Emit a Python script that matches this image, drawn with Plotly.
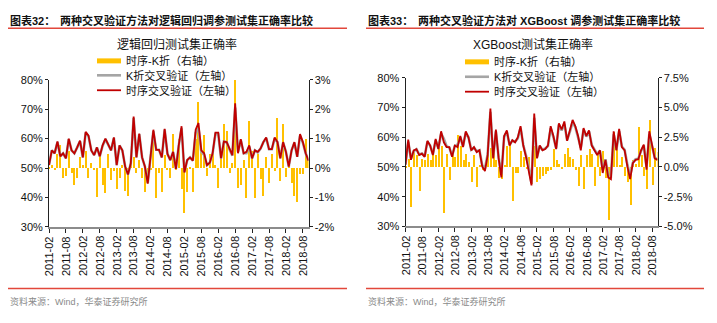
import plotly.graph_objects as go

# ---------------- data ----------------
months = []
for yr in range(2011, 2019):
    for m in range(1, 13):
        s = f"{yr}-{m:02d}"
        if "2011-02" <= s <= "2018-10":
            months.append(s)

tick_labels = ["2011-02", "2011-08", "2012-02", "2012-08", "2013-02", "2013-08",
               "2014-02", "2014-08", "2015-02", "2015-08", "2016-02", "2016-08",
               "2017-02", "2017-08", "2018-02", "2018-08"]

# Chart 32: logistic regression (left axis %, lines)
lr_ts = [51, 56, 55, 59, 54, 55, 53.3, 60, 56, 55,
         57, 59.3, 53.6, 62.3, 61, 56, 54.4, 57, 54, 57.7,
         60, 57.7, 56, 60.4, 51, 57.7, 56, 50.5, 47.8, 51.6,
         67.5, 53.6, 61.7, 53.6, 50.5, 44.7, 55, 63, 56.2, 56.2,
         53.6, 63.3, 54.8, 52.7, 55.5, 49.7, 57.7, 64.2, 48.5, 52.7,
         53.6, 52.5, 63, 65.3, 56, 55, 51, 51.8, 55, 62,
         62, 53.3, 59, 58.8, 56.6, 54.4, 72, 55, 59.8, 55,
         55.5, 57.7, 53.3, 56, 55.5, 56.6, 58.8, 60.4, 56.4, 56.4,
         60.4, 58.8, 53.3, 58.8, 55.5, 50.5, 56, 58.8, 53.8, 61.5,
         58.8, 55, 52.5]
lr_kf = [51, 56, 55, 58.8, 54, 55, 53.3, 59.8, 56, 55,
         57, 59.1, 53.6, 62.0, 60.8, 56, 54.4, 57, 54, 57.5,
         59.8, 57.7, 56, 60.2, 51, 57.7, 56, 50.5, 47.8, 51.6,
         67.0, 53.6, 61.5, 53.6, 50.5, 44.9, 55, 62.5, 56.2, 56.2,
         53.6, 63.0, 54.8, 52.7, 55.5, 49.7, 57.7, 63.5, 48.7, 52.7,
         53.6, 52.5, 62.0, 63.5, 55.5, 54.5, 51, 51.8, 55, 61.5,
         61.5, 53.3, 59, 58.8, 56.3, 54.2, 70.5, 55.5, 59.5, 55,
         55.0, 57.3, 53.3, 56, 55.3, 56.6, 58.8, 60.2, 56.4, 56.4,
         60.0, 58.8, 53.3, 58.6, 55.5, 50.5, 56, 58.6, 53.8, 61.0,
         58.6, 55, 52.5]
# time-series minus K-fold (right axis, %)
lr_diff = [0.05, 0.1, -0.05, 0.5, 0.8, -0.33, -0.25, 0.6, -0.16, -0.55,
           -0.33, 0.4, 0.1, 0.6, -0.33, 0.2, -0.05, -0.97, 0.5, -0.55,
           -0.82, 0.5, -0.38, -0.1, -0.7, -0.33, 0.1, -0.77, -0.93, 0.45,
           0.4, -0.16, 0.27, -0.33, -0.8, -0.45, -0.03, 1.2, -1.0, -0.16,
           -0.8, 0.45, -0.03, -0.33, 1.17, -0.05, 1.0, -0.7, -1.53, -0.8,
           0.05, -0.8, 1.0, 2.25, 0.6, 1.15, -0.27, 0.5, 0.5, 0.1,
           -0.66, 0.33, 1.5, 1.28, -0.16, 0.2, 3.0, -0.66, -0.55, 0.27,
           -1.0, 1.6, 0.6, -1.0, 0.5, -0.35, -0.92, 0.4, -0.5, 0.5,
           -0.1, 1.7, -0.43, 1.5, -0.3, 0.3, -0.5, -0.93, -1.13, -0.2,
           -0.2, 1.0, 0.3]

# Chart 33: XGBoost
xg_ts = [50.8, 59.2, 52.4, 55.6, 56, 54, 54.5, 53.4, 58.8, 57.2,
         54, 59.4, 56, 62, 58.3, 56.7, 56.7, 53.4, 57.2, 56.7,
         60.4, 56.7, 62, 59.9, 55.6, 56.7, 55, 55.6, 50.2, 48.6,
         54, 69.6, 52.9, 62.6, 52.9, 46.5, 60.4, 62.3, 57.2, 59,
         58.3, 59.9, 63.7, 57.2, 53.4, 49.1, 43.8, 68, 52.9, 57.2,
         55.6, 56, 57.2, 63.7, 60.4, 56, 64.7, 62.6, 65.3, 58.8,
         62, 65.8, 63.7, 60.4, 55.6, 63.1, 60.4, 62.3, 57.2, 55.6,
         54, 55.6, 48, 52.4, 46.5, 45.9, 62, 55.6, 62.8, 56.7,
         55.6, 50.2, 45.9, 51.3, 52.4, 52.6, 55.6, 57.5, 49.1, 62,
         57.7, 52.9, 52.4]
xg_kf = [50.8, 58.5, 52.8, 55.3, 56, 54.2, 54.5, 53.6, 58.5, 57.2,
         54.3, 59.0, 56.2, 61.2, 59.5, 57.0, 56.5, 53.8, 57.0, 57.5,
         60.0, 57.0, 61.5, 60.0, 55.8, 56.5, 55.3, 55.6, 50.6, 49.5,
         54.3, 68.5, 53.2, 62.0, 53.2, 47.5, 60.0, 61.8, 57.5, 58.8,
         58.5, 59.6, 63.2, 57.4, 53.8, 50.0, 44.5, 66.5, 53.2, 57.0,
         55.8, 56.2, 57.0, 63.0, 60.0, 56.3, 64.2, 62.3, 64.5, 59.0,
         61.8, 65.0, 63.4, 60.2, 56.5, 62.6, 60.2, 62.0, 57.4, 55.8,
         54.4, 55.4, 49.0, 52.6, 47.5, 47.0, 61.0, 55.8, 62.0, 56.9,
         55.8, 50.8, 47.0, 51.5, 52.6, 52.8, 55.4, 57.2, 50.0, 61.0,
         57.5, 53.2, 52.4]
xg_diff = [0.1, 0.7, -3.3, 1.4, 1.0, -1.96, 0.7, 0.6, 1.1, 0.6,
           1.4, 1.0, 2.1, 1.8, -3.85, 1.1, -1.1, 1.1, 0.9, 2.7,
           1.8, 0.6, 1.1, 0.45, -1.2, 1.0, -1.7, 0.2, -0.2, 0.2,
           2.1, 1.6, 1.9, 0.6, -0.9, -1.0, 0.2, 1.8, 2.1, -2.8,
           -0.5, -0.5, 1.4, 0.9, -0.1, 0.9, -1.4, 1.8, -1.2, -1.0,
           -0.75, -0.55, -0.35, -0.2, 1.5, 0.6, 0.3, -0.1, 1.1, 1.6,
           0.9, 0.7, -0.2, -1.6, 1.0, -1.8, 1.0, 1.5, 1.1, -1.55,
           1.1, -0.75, 1.4, -0.9, -4.4, -0.3, 3.0, 1.6, 0.2, 0.9,
           -0.75, -1.2, -3.2, 0.6, 0.3, 3.4, 1.0, -0.75, -1.8, 3.95,
           -1.5, 1.6, 1.26]

left_ticks = [30, 40, 50, 60, 70, 80]
lr_right_ticks = [-2, -1, 0, 1, 2, 3]
xg_right_ticks = [-5.0, -2.5, 0.0, 2.5, 5.0, 7.5]

legend_names = ["时序-K折（右轴）", "K折交叉验证（左轴）", "时序交叉验证（左轴）"]

# ---------------- style ----------------
W, H = 717, 323
def px(x): return x / W
def py(y): return 1 - y / H

FONT = "Liberation Sans, Arial, Noto Sans CJK SC"
CJK = "Liberation Sans, Noto Sans CJK SC"
BAR_C = "#FFC000"
GRAY_C = "#A5A5A5"
RED_C = "#C00000"
RULE_C = "#E2473B"
tickfont = dict(family=FONT, size=11, color="#111111")

xpos = list(range(len(months)))
tick_pos = [months.index(t) for t in tick_labels]

fig = go.Figure()

# left chart
fig.add_trace(go.Bar(x=xpos, y=lr_diff, xaxis="x", yaxis="y", marker_color=BAR_C,
                     marker_line_width=0, width=0.36, showlegend=False, customdata=months))
fig.add_trace(go.Scatter(x=xpos, y=lr_kf, xaxis="x", yaxis="y2", mode="lines",
                         line=dict(color=GRAY_C, width=2.6), showlegend=False))
fig.add_trace(go.Scatter(x=xpos, y=lr_ts, xaxis="x", yaxis="y2", mode="lines",
                         line=dict(color=RED_C, width=1.8), showlegend=False))
# right chart
fig.add_trace(go.Bar(x=xpos, y=xg_diff, xaxis="x2", yaxis="y3", marker_color=BAR_C,
                     marker_line_width=0, width=0.36, showlegend=False, customdata=months))
fig.add_trace(go.Scatter(x=xpos, y=xg_kf, xaxis="x2", yaxis="y4", mode="lines",
                         line=dict(color=GRAY_C, width=2.6), showlegend=False))
fig.add_trace(go.Scatter(x=xpos, y=xg_ts, xaxis="x2", yaxis="y4", mode="lines",
                         line=dict(color=RED_C, width=1.8), showlegend=False))

def xaxis_cfg(domain, anchor):
    # ticks drawn by the axis; rotated month labels added as axis-referenced annotations
    return dict(domain=domain, anchor=anchor, type="linear",
                range=[0, len(months) - 1],
                tickmode="array", tickvals=tick_pos, showticklabels=False,
                ticks="outside", ticklen=4, tickcolor="#222222",
                showline=True, linecolor="#8C8C8C", linewidth=2,
                showgrid=False, zeroline=False)

def yaxis_cfg(domain, anchor, side, rng, vals, texts, overlaying=None):
    d = dict(domain=domain, anchor=anchor, side=side, range=rng,
             tickmode="array", tickvals=vals, ticktext=texts,
             ticks="outside", ticklen=3, tickcolor="#222222",
             showline=True, linecolor="#222222", linewidth=1,
             showgrid=False, zeroline=False, tickfont=tickfont)
    if overlaying:
        d["overlaying"] = overlaying
    return d

LX = [px(49), px(308.5)]
RX = [px(405.5), px(657.5)]
LY = [py(229.5), py(76.5)]
RY = [py(229), py(74.5)]

fig.update_layout(
    width=W, height=H, autosize=False,
    margin=dict(l=0, r=0, t=0, b=0),
    paper_bgcolor="white", plot_bgcolor="white",
    showlegend=False, bargap=0,
    xaxis=xaxis_cfg(LX, "y"),
    yaxis=yaxis_cfg(LY, "x", "right", [-2, 3], lr_right_ticks,
                    [f"{v}%" for v in lr_right_ticks]),
    yaxis2=yaxis_cfg(LY, "x", "left", [30, 80], left_ticks,
                     [f"{v}%" for v in left_ticks], overlaying="y"),
    xaxis2=xaxis_cfg(RX, "y3"),
    yaxis3=yaxis_cfg(RY, "x2", "right", [-5, 7.5], xg_right_ticks,
                     [f"{v:.1f}%" for v in xg_right_ticks]),
    yaxis4=yaxis_cfg(RY, "x2", "left", [30, 80], left_ticks,
                     [f"{v}%" for v in left_ticks], overlaying="y3"),
)

shapes = []
ann = []

def text(x, y, s, size, color="#111111", xanchor="left", bold=False, family=CJK):
    if bold:
        s = f"<b>{s}</b>"
    ann.append(dict(x=px(x), y=py(y), xref="paper", yref="paper", text=s,
                    showarrow=False, xanchor=xanchor, yanchor="middle",
                    font=dict(family=family, size=size, color=color)))

def hline(x0, x1, y, color, width):
    shapes.append(dict(type="line", xref="paper", yref="paper", x0=px(x0), x1=px(x1),
                       y0=py(y), y1=py(y), line=dict(color=color, width=width)))

# rotated month tick labels, positioned on each x axis's own scale
for xref, ytop in [("x", 238), ("x2", 237.5)]:
    for pos, lab in zip(tick_pos, tick_labels):
        ann.append(dict(x=pos, xref=xref, y=py(ytop), yref="paper", text=lab,
                        textangle=-90, showarrow=False, xanchor="center", yanchor="top",
                        borderpad=0, font=tickfont))

# headers and rules
text(8, 15, "图表32：", 11, bold=True)
text(58, 15, "两种交叉验证方法对逻辑回归调参测试集正确率比较", 11, bold=True)
text(366, 15, "图表33：", 11, bold=True)
text(416, 15, "两种交叉验证方法对 XGBoost 调参测试集正确率比较", 11, bold=True)
hline(8, 347, 23, RULE_C, 1.5)
hline(366, 704, 23, RULE_C, 1.5)
hline(8, 347, 293.5, RULE_C, 1.5)
hline(366, 704, 293.5, RULE_C, 1.5)
text(8, 307, "资料来源：Wind，华泰证券研究所", 9, color="#8A8A8A")
text(366, 307, "资料来源：Wind，华泰证券研究所", 9, color="#8A8A8A")

# chart titles
text(177, 40, "逻辑回归测试集正确率", 12, xanchor="center")
text(533, 40, "XGBoost测试集正确率", 12, xanchor="center")

# legends
leg_styles = [(BAR_C, 5), (GRAY_C, 2.6), (RED_C, 1.8)]
for (x0, ys) in [(97, [57, 72, 87.5]), (465, [58, 73.5, 89])]:
    for (c, w), yv, name in zip(leg_styles, ys, legend_names):
        hline(x0, x0 + 24, yv, c, w)
        text(x0 + 27, yv, name, 11)

fig.update_layout(shapes=shapes, annotations=ann)
fig.write_html("out.html")
